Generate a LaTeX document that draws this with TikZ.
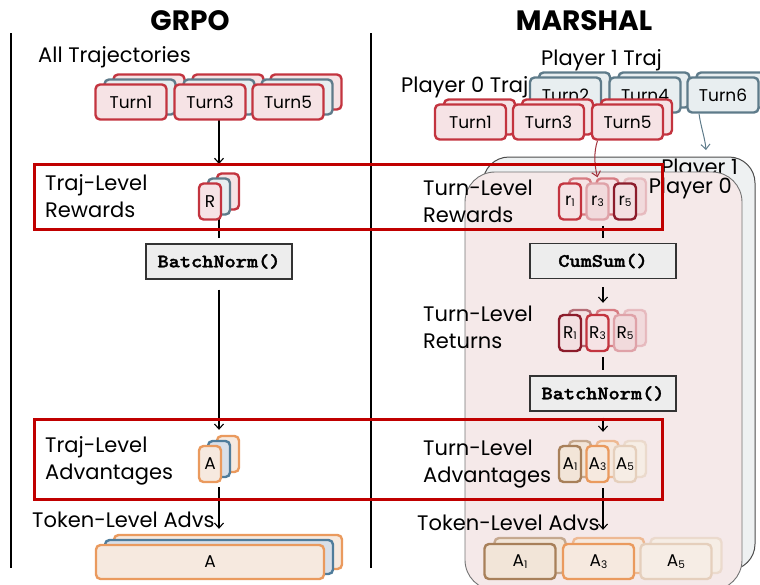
\documentclass[tikz,border=0pt]{standalone}
\usepackage{fontspec}
\setmainfont{Poppins}
\newfontfamily\codefont{lmmonolt10-bold.otf}[FakeBold=1.6]
\usetikzlibrary{arrows.meta}

\definecolor{cRed}{HTML}{C3343F}
\definecolor{cRedFill}{HTML}{F6E3E5}
\definecolor{cSlate}{HTML}{5E7B8A}
\definecolor{cSlateFill}{HTML}{E8EEF0}
\definecolor{cDark}{HTML}{8C1C2B}
\definecolor{cDarkFill}{HTML}{F3E0E2}
\definecolor{cPink}{HTML}{DFA2A8}
\definecolor{cPinkFill}{HTML}{F1DADC}
\definecolor{cOrange}{HTML}{EA9A5E}
\definecolor{cOrangeFill}{HTML}{F6E9DF}
\definecolor{cBlue}{HTML}{4F7C9B}
\definecolor{cBlueFill}{HTML}{D9DFE8}
\definecolor{cBrown}{HTML}{A8805A}
\definecolor{cBrownFill}{HTML}{F2E5D8}
\definecolor{cTan}{HTML}{E5CFBC}
\definecolor{cTanFill}{HTML}{F6EDE5}
\definecolor{cHigh}{HTML}{C00000}
\definecolor{cPanelOne}{HTML}{EEF1F2}
\definecolor{cPanelZero}{HTML}{F5E9E9}
\definecolor{cCurve}{HTML}{A0303A}

\newcommand\lowidx[1]{\raisebox{-1.5pt}{\fontsize{10.5}{10.5}\selectfont #1}}
\newcommand\codetext[1]{\scalebox{1.12}[1]{\codefont #1}}

\tikzset{
  card/.style={draw, line width=2.4pt, rounded corners=4.5pt, inner sep=0pt,
               font=\fontsize{17}{17}\selectfont},
  turnc/.style={card, minimum width=71pt, minimum height=35pt},
  chip/.style={card, minimum width=22pt, minimum height=36pt},
  wide/.style={card, minimum width=228pt, minimum height=34pt},
  redc/.style={draw=cRed, fill=cRedFill},
  slatec/.style={draw=cSlate, fill=cSlateFill},
  darkc/.style={draw=cDark, fill=cDarkFill},
  pinkc/.style={draw=cPink, fill=cPinkFill},
  orangec/.style={draw=cOrange, fill=cOrangeFill},
  bluec/.style={draw=cBlue, fill=cBlueFill},
  brownc/.style={draw=cBrown, fill=cBrownFill},
  tanc/.style={draw=cTan, fill=cTanFill},
  faded/.style={draw opacity=0.6},
  lbl/.style={anchor=base west, inner sep=0pt, font=\fontsize{21}{21}\selectfont},
  title/.style={anchor=base, inner sep=0pt, font=\fontsize{28}{28}\selectfont\bfseries},
  opbox/.style={draw=black!80, line width=1.3pt, fill=black!7, minimum width=146pt,
                minimum height=35pt, inner sep=0pt, font=\fontsize{19}{19}\selectfont},
  flow/.style={line width=1.1pt, -{Straight Barb[length=5pt,width=9pt]}},
  plain/.style={line width=1.1pt},
  divider/.style={line width=1.2pt},
  hilite/.style={draw=cHigh, line width=3pt},
  panelone/.style={draw=black!70, line width=1pt, fill=cPanelOne, rounded corners=26pt},
  panelzero/.style={draw=black!55, line width=0.9pt, fill=cPanelZero, rounded corners=30pt},
}

\begin{document}
\begin{tikzpicture}[x=1pt,y=-1pt]
\useasboundingbox (0,0) rectangle (760,584);

% column dividers
\draw[divider] (11,33) -- (11,568);
\draw[divider] (371,33) -- (371,568);

% titles
\node[title] (tgrpo) at (190,30) {GRPO};
\node[title] (tmarshal) at (584,30) {MARSHAL};

% player panels (MARSHAL side)
\draw[panelone] (483,157) rectangle (755,570);
\node[lbl, anchor=base east] (plone) at (738,174) {Player 1};
\draw[panelzero] (465,172) rectangle (742,590);
\node[lbl, anchor=base east] (plzero) at (732,193) {Player 0};

% ---------------- GRPO column ----------------
\node[lbl] (gall) at (38,62) {All Trajectories};

\node[turnc, redc] (gT1c) at (149,92) {};
\node[turnc, redc] (gT3c) at (228,92) {};
\node[turnc, redc] (gT5c) at (306,92) {};
\node[turnc, slatec] (gT1b) at (140,97) {};
\node[turnc, slatec] (gT3b) at (219,97) {};
\node[turnc, slatec] (gT5b) at (297,97) {};

% connectors behind the cards
\draw[flow] (gT3b.south) -- ([yshift=13pt]gT3b.south |- 219,177);

\node[turnc, redc] (gT1) at (131,102) {Turn1};
\node[turnc, redc] (gT3) at (210,102) {Turn3};
\node[turnc, redc] (gT5) at (288,102) {Turn5};

\node[lbl] (grwA) at (45,190) {Traj-Level};
\node[lbl] (grwB) at (45,217) {Rewards};

\node[opbox] (gBN) at (219,261.5) {\codetext{BatchNorm()}};

\node[chip, redc] (gRc) at (228,191.5) {};
\node[chip, slatec] (gRb) at (219,196.5) {};
\draw[plain, shorten >=5pt] (gRb.south) -- (gBN.north);
\node[chip, redc] (gR) at (210,201.5) {R};

\node[lbl] (gadA) at (45,452) {Traj-Level};
\node[lbl] (gadB) at (45,479) {Advantages};

\node[chip, orangec] (gAc) at (228,454) {};
\node[chip, bluec] (gAb) at (219,459) {};
\draw[flow, shorten <=10pt] (gBN.south) -- ([yshift=10pt]gAb.north);
\node[chip, orangec] (gA) at (210,464) {A};

\node[lbl] (gtok) at (32,527) {Token-Level Advs};

\node[wide, orangec] (gWc) at (228,552) {};
\node[wide, bluec] (gWb) at (219,557) {};
\draw[flow, shorten <=9pt] (gAb.south) -- ([yshift=10pt]gWb.north);
\node[wide, orangec] (gW) at (210,562) {A};

% ---------------- MARSHAL column ----------------
\node[lbl] (pone) at (541,65) {Player 1 Traj};
\node[lbl] (pzero) at (401,92) {Player 0 Traj};

\node[turnc, slatec] (qT2b) at (574.5,90) {};
\node[turnc, slatec] (qT4b) at (654,90) {};
\node[turnc, slatec] (qT6b) at (732,90) {};
\node[turnc, slatec] (qT2) at (565.5,95) {Turn2};
\node[turnc, slatec] (qT4) at (645,95) {Turn4};
\node[turnc, slatec] (qT6) at (723,95) {Turn6};

\coordinate (qin) at (706,150);
\draw[flow, draw=cSlate, line width=1pt]
  ([xshift=-24pt]qT6.south) .. controls +(2,14) and +(-1,-12) .. (qin);

\node[turnc, redc] (pT1b) at (479.5,117) {};
\node[turnc, redc] (pT3b) at (557.5,117) {};
\node[turnc, redc] (pT5b) at (636.5,117) {};
\node[turnc, redc] (pT1) at (470.5,122) {Turn1};
\node[turnc, redc] (pT3) at (548.5,122) {Turn3};
\node[turnc, redc] (pT5) at (627.5,122) {Turn5};

\node[lbl] (mrwA) at (423,195) {Turn-Level};
\node[lbl] (mrwB) at (423,222) {Rewards};

\node[opbox] (mCS) at (603,261) {\codetext{CumSum()}};

% per-turn rewards
\node[chip, redc, faded] (mr1b) at (580,196.5) {};
\node[chip, redc, faded] (mr3b) at (607.5,196.5) {};
\node[chip, pinkc, faded] (mr5b) at (635,196.5) {};
\node[chip, redc] (mr1) at (570,201.5) {r\lowidx{1}};
\node[chip, pinkc] (mr3) at (597.5,201.5) {r\lowidx{3}};
\node[chip, darkc] (mr5) at (625,201.5) {r\lowidx{5}};

\draw[flow, draw=cCurve, line width=1pt]
  ([xshift=-30pt]pT5.south) .. controls +(-4,12) and +(-3,-12) .. ([yshift=5pt]mr3.north);

\draw[plain, shorten <=5pt, shorten >=5pt] (mr3.south -| mCS.north) -- (mCS.north);

\node[lbl] (mrtA) at (423,321) {Turn-Level};
\node[lbl] (mrtB) at (423,348) {Returns};

% per-turn returns
\node[chip, darkc, faded] (mR1b) at (580,328) {};
\node[chip, redc, faded] (mR3b) at (607.5,328) {};
\node[chip, pinkc, faded] (mR5b) at (635,328) {};
\node[chip, darkc] (mR1) at (570,333) {R\lowidx{1}};
\node[chip, redc] (mR3) at (597.5,333) {R\lowidx{3}};
\node[chip, pinkc] (mR5) at (625,333) {R\lowidx{5}};

\draw[flow, shorten <=8pt] (mCS.south) -- ([yshift=6pt]mCS.south |- mR3b.north);

\node[opbox] (mBN) at (603,393.5) {\codetext{BatchNorm()}};
\draw[plain, shorten <=5pt, shorten >=5pt] (mR3.south -| mBN.north) -- (mBN.north);

\node[lbl] (madA) at (423,455) {Turn-Level};
\node[lbl] (madB) at (423,482) {Advantages};

% per-turn advantages
\node[chip, brownc, faded] (mA1b) at (580,459) {};
\node[chip, orangec, faded] (mA3b) at (607.5,459) {};
\node[chip, tanc, faded] (mA5b) at (635,459) {};
\node[chip, brownc] (mA1) at (570,464) {A\lowidx{1}};
\node[chip, orangec] (mA3) at (597.5,464) {A\lowidx{3}};
\node[chip, tanc] (mA5) at (625,464) {A\lowidx{5}};

\draw[flow, shorten <=6pt] (mBN.south) -- ([yshift=8pt]mBN.south |- mA3b.north);

\node[lbl] (mtok) at (417,530) {Token-Level Advs};

% token-level advantages
\node[turnc, brownc, faded] (mW1b) at (530,555.5) {};
\node[turnc, orangec, faded] (mW3b) at (608.5,555.5) {};
\node[turnc, tanc, faded] (mW5b) at (686,555.5) {};
\node[turnc, brownc] (mW1) at (520,561.5) {A\lowidx{1}};
\node[turnc, orangec] (mW3) at (598.5,561.5) {A\lowidx{3}};
\node[turnc, tanc] (mW5) at (676,561.5) {A\lowidx{5}};

\draw[flow, shorten <=5pt] (mA3.south -| mBN.south) -- ([yshift=7pt]mBN.south |- mW3b.north);

% highlighted rows
\draw[hilite] (34,164) rectangle (662,229);
\draw[hilite] (34,419) rectangle (662,499);
\end{tikzpicture}
\end{document}
